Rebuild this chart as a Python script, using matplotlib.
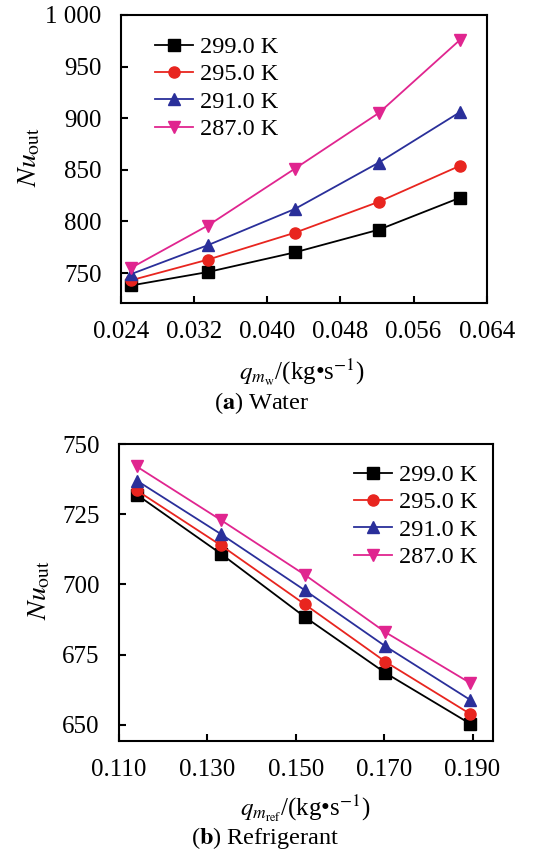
import matplotlib
matplotlib.use("Agg")
import matplotlib.pyplot as plt
from matplotlib.ticker import FixedLocator, FixedFormatter

plt.rcParams['font.family'] = ['Liberation Serif', 'DejaVu Serif']
plt.rcParams['mathtext.fontset'] = 'stix'

# ---- data ----
labels = ['299.0 K', '295.0 K', '291.0 K', '287.0 K']
colors = ['#000000', '#e8251f', '#2a2f9a', '#e0258f']
markers = ['s', 'o', '^', 'v']

water_x = [0.0251, 0.0335, 0.0430, 0.0522, 0.0611]
water_299 = [738, 751, 770, 792, 823]
water_295 = [743, 763, 789, 819, 854]
water_291 = [749, 777, 812, 857, 906]
water_287 = [755, 796, 851, 905, 976]

ref_x = [0.114, 0.133, 0.152, 0.1703, 0.1894]
ref_299 = [732, 711, 688.5, 668.5, 650.5]
ref_295 = [733.5, 714, 693, 672.5, 654]
ref_291 = [737, 718, 698, 678, 659]
ref_287 = [742, 723, 703.5, 683, 665]

water_yticks = [750, 800, 850, 900, 950, 1000]
water_yticklabels = ['750', '800', '850', '900', '950', '1 000']
water_xticks = [0.024, 0.032, 0.040, 0.048, 0.056, 0.064]
ref_yticks = [650, 675, 700, 725, 750]
ref_xticks = [0.110, 0.130, 0.150, 0.170, 0.190]

fig = plt.figure(figsize=(5.55, 8.55), dpi=100)

def style(ax):
    for s in ax.spines.values():
        s.set_linewidth(1.5)
    ax.tick_params(direction='in', length=5, width=1.5, labelsize=18,
                   top=False, right=False)
    ax.tick_params(axis='x', pad=13)
    ax.tick_params(axis='y', pad=14)

# ---- top (water) ----
ax1 = fig.add_axes([0.218, 0.6456, 0.659, 0.337])
for ys, c, m, l in zip([water_299, water_295, water_291, water_287], colors, markers, labels):
    ax1.plot(water_x, ys, color=c, marker=m, markersize=8, linewidth=1.3, label=l)
ax1.set_xlim(0.024, 0.064)
ax1.set_ylim(721, 1000)
ax1.yaxis.set_major_locator(FixedLocator(water_yticks))
ax1.yaxis.set_major_formatter(FixedFormatter(water_yticklabels))
ax1.xaxis.set_major_locator(FixedLocator(water_xticks))
ax1.xaxis.set_major_formatter(FixedFormatter(['%.3f' % v for v in water_xticks]))
style(ax1)
ax1.legend(loc='upper left', frameon=False, fontsize=17.5, handlelength=1.55,
           handletextpad=0.3, labelspacing=0.22, borderaxespad=0.0,
           bbox_to_anchor=(0.066, 0.96))

# ---- bottom (refrigerant) ----
ax2 = fig.add_axes([0.2144, 0.1337, 0.6736, 0.347])
for ys, c, m, l in zip([ref_299, ref_295, ref_291, ref_287], colors, markers, labels):
    ax2.plot(ref_x, ys, color=c, marker=m, markersize=8, linewidth=1.3, label=l)
ax2.set_xlim(0.110, 0.1946)
ax2.set_ylim(644.4, 750)
ax2.yaxis.set_major_locator(FixedLocator(ref_yticks))
ax2.xaxis.set_major_locator(FixedLocator(ref_xticks))
ax2.xaxis.set_major_formatter(FixedFormatter(['%.3f' % v for v in ref_xticks]))
style(ax2)
ax2.legend(loc='upper right', frameon=False, fontsize=17.5, handlelength=1.55,
           handletextpad=0.3, labelspacing=0.22, borderaxespad=0.0,
           bbox_to_anchor=(0.985, 0.965))

# ---- labels ----
W, H = 555, 855
def ftext(x, y, s, **kw):
    fig.text(x / W, 1 - y / H, s, ha='center', va='center', **kw)

ftext(30, 157, r'$\mathit{Nu}_{\mathrm{out}}$', fontsize=20, rotation=90)
ftext(40, 590, r'$\mathit{Nu}_{\mathrm{out}}$', fontsize=20, rotation=90)
ftext(302, 372, r'$q_{m_{\mathrm{w}}}$/(kg•s$^{-1}$)', fontsize=18)
ftext(305, 808, r'$q_{m_{\mathrm{ref}}}$/(kg•s$^{-1}$)', fontsize=18)
ftext(262, 403, r'($\mathbf{a}$) Water', fontsize=17.5)
ftext(265, 838, r'($\mathbf{b}$) Refrigerant', fontsize=17.5)

fig.savefig('out.png', dpi=100)
